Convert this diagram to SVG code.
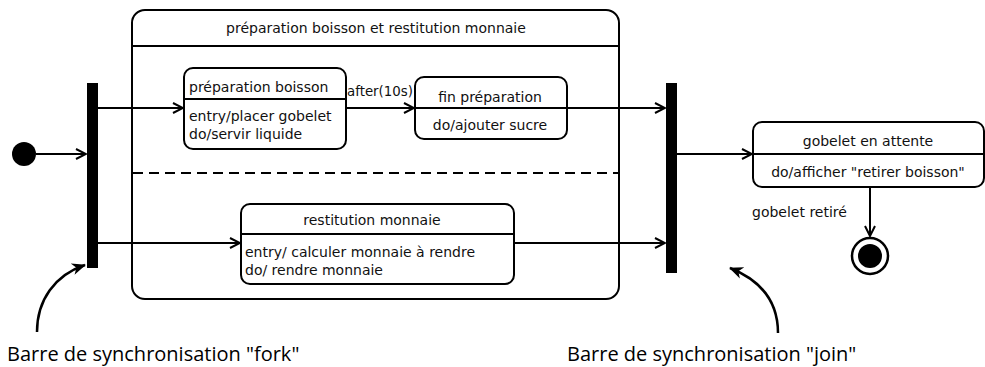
<svg xmlns="http://www.w3.org/2000/svg" width="985" height="367" viewBox="0 0 985 367">
  <defs>
    <marker id="open" viewBox="0 0 12 12" refX="11" refY="6" markerWidth="12" markerHeight="12" markerUnits="userSpaceOnUse" orient="auto">
      <path d="M1,1 L11,6 L1,11" fill="none" stroke="#000" stroke-width="2"/>
    </marker>
    <marker id="solid" viewBox="0 0 14 14" refX="13" refY="7" markerWidth="14" markerHeight="14" markerUnits="userSpaceOnUse" orient="auto">
      <path d="M0,1 L14,7 L0,13 L4,7 Z" fill="#000"/>
    </marker>
  </defs>
  <style>
    .box { fill: #fff; stroke: #000; stroke-width: 2; }
    .sep { stroke: #000; stroke-width: 1.8; }
    .t { font-family: "DejaVu Sans", sans-serif; font-size: 14px; fill: #111; }
    .c { text-anchor: middle; }
    .edge { fill: none; stroke: #000; stroke-width: 2; marker-end: url(#open); }
    .note { fill: none; stroke: #000; stroke-width: 2.5; marker-end: url(#solid); }
    .cap { font-family: "Open Sans", "Liberation Sans", sans-serif; font-size: 20px; fill: #000; }
  </style>
  <rect width="985" height="367" fill="#fff"/>

  <!-- composite state -->
  <g id="composite">
    <rect class="box" x="132" y="10" width="487" height="289" rx="13"/>
    <line class="sep" x1="132" y1="46" x2="619" y2="46"/>
    <text class="t c" x="376" y="33">préparation boisson et restitution monnaie</text>
    <line x1="133" y1="173" x2="618" y2="173" stroke="#000" stroke-width="2.2" stroke-dasharray="10,6"/>
  </g>

  <g id="initial">
    <circle cx="24" cy="154" r="12" fill="#000"/>
  </g>

  <g id="fork">
    <rect x="87" y="83" width="11" height="185" fill="#000"/>
  </g>

  <g id="join">
    <rect x="666" y="83" width="11" height="190" fill="#000"/>
  </g>

  <g id="preparation">
    <rect class="box" x="184" y="68" width="162" height="81" rx="9"/>
    <line class="sep" x1="184" y1="99" x2="346" y2="99"/>
    <text class="t" x="189" y="92">préparation boisson</text>
    <text class="t" x="189" y="121">entry/placer gobelet</text>
    <text class="t" x="189" y="139">do/servir liquide</text>
  </g>

  <g id="fin-preparation">
    <rect class="box" x="415" y="77" width="152" height="62" rx="9"/>
    <line class="sep" x1="415" y1="108" x2="567" y2="108"/>
    <text class="t c" x="490" y="102">fin préparation</text>
    <text class="t c" x="490" y="130">do/ajouter sucre</text>
  </g>

  <g id="restitution">
    <rect class="box" x="241" y="204" width="273" height="80" rx="9"/>
    <line class="sep" x1="241" y1="234" x2="514" y2="234"/>
    <text class="t c" x="372" y="225">restitution monnaie</text>
    <text class="t" x="245" y="257">entry/ calculer monnaie à rendre</text>
    <text class="t" x="245" y="275">do/ rendre monnaie</text>
  </g>

  <g id="attente">
    <rect class="box" x="753" y="122" width="231" height="65" rx="9"/>
    <line class="sep" x1="753" y1="154" x2="984" y2="154"/>
    <text class="t c" x="868" y="146">gobelet en attente</text>
    <text class="t c" x="868" y="177">do/afficher "retirer boisson"</text>
  </g>

  <g id="final">
    <circle cx="870" cy="256" r="18" fill="#fff" stroke="#000" stroke-width="2.5"/>
    <circle cx="870" cy="256" r="12" fill="#000"/>
  </g>

  <g id="connectors">
    <line class="edge" x1="36" y1="154" x2="86" y2="154"/>
    <line class="edge" x1="98" y1="108" x2="183" y2="108"/>
    <line class="edge" x1="98" y1="243" x2="240" y2="243"/>
    <line class="edge" x1="346" y1="108" x2="414" y2="108"/>
    <text class="t" x="347" y="96" textLength="66" lengthAdjust="spacingAndGlyphs">after(10s)</text>
    <line class="edge" x1="567" y1="108" x2="665" y2="108"/>
    <line class="edge" x1="514" y1="243" x2="665" y2="243"/>
    <line class="edge" x1="677" y1="154" x2="752" y2="154"/>
    <line class="edge" x1="870" y1="187" x2="870" y2="236"/>
    <text class="t" x="752" y="217">gobelet retiré</text>
    <path class="note" d="M37,332 C37,300 55,275 85,265"/>
    <path class="note" d="M778,333 C778,300 760,280 730,268"/>
  </g>

  <text class="cap" x="7" y="361">Barre de synchronisation "fork"</text>
  <text class="cap" x="567" y="361">Barre de synchronisation "join"</text>
</svg>
